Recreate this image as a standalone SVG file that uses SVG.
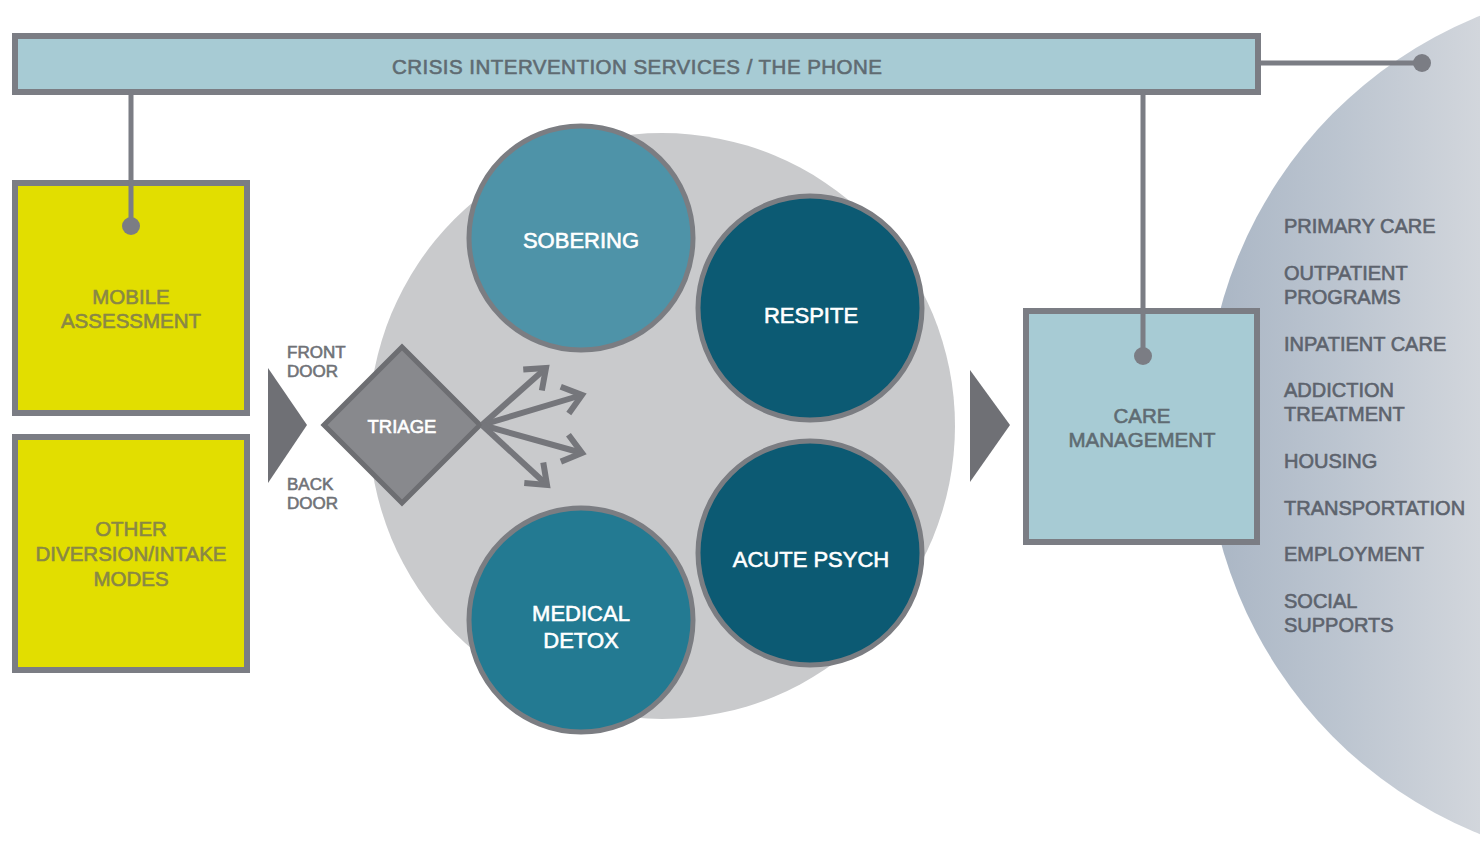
<svg xmlns="http://www.w3.org/2000/svg" width="1480" height="841" viewBox="0 0 1480 841">
<defs>
<linearGradient id="ellG" gradientUnits="userSpaceOnUse" x1="1205" y1="0" x2="1480" y2="0">
<stop offset="0" stop-color="#a9b5c4"/>
<stop offset="0.5" stop-color="#bcc5d0"/>
<stop offset="1" stop-color="#d2d6dc"/>
</linearGradient>
<marker id="chev" markerUnits="userSpaceOnUse" markerWidth="40" markerHeight="40" refX="0" refY="0" viewBox="-30 -20 40 40" orient="auto" overflow="visible">
<path d="M-18,-14 L0,0 L-18,14" fill="none" stroke="#75767b" stroke-width="6" stroke-linecap="butt" stroke-linejoin="miter"/>
</marker>
</defs>
<style>
text{font-family:"Liberation Sans","DejaVu Sans",Arial,sans-serif;text-anchor:middle;dominant-baseline:central;stroke-width:0.6px;paint-order:stroke}
.box{stroke:#7b7d84;stroke-width:6}
.blue{fill:#a7cbd4}
.yel{fill:#e2de00}
.ytx{fill:#898745;stroke:#898745;font-size:20.5px}
.btx{fill:#5f6b72;stroke:#5f6b72;font-size:20.5px}
.ctx{fill:#ffffff;stroke:#ffffff;font-size:22px}
.ring{stroke:#7b7d82;stroke-width:5}
.lst{fill:#5d636d;stroke:#5d636d;font-size:20px;text-anchor:start}
.door{fill:#707277;stroke:#707277;font-size:17px;text-anchor:start}
.con{stroke:#7b7d84;stroke-width:5;fill:none}
.dot{fill:#7b7d84}
.arr{stroke:#75767b;stroke-width:6;fill:none}
.tri{fill:#6f7075}
</style>
<rect width="1480" height="841" fill="#ffffff"/>

<g id="services">
<ellipse cx="1640" cy="425" rx="435" ry="440" fill="url(#ellG)"/>
<text class="lst" x="1284" y="226">PRIMARY CARE</text>
<text class="lst" x="1284" y="273">OUTPATIENT</text>
<text class="lst" x="1284" y="297">PROGRAMS</text>
<text class="lst" x="1284" y="344">INPATIENT CARE</text>
<text class="lst" x="1284" y="390">ADDICTION</text>
<text class="lst" x="1284" y="414">TREATMENT</text>
<text class="lst" x="1284" y="461">HOUSING</text>
<text class="lst" x="1284" y="508">TRANSPORTATION</text>
<text class="lst" x="1284" y="554">EMPLOYMENT</text>
<text class="lst" x="1284" y="601">SOCIAL</text>
<text class="lst" x="1284" y="625">SUPPORTS</text>
</g>

<g id="stabilization-area">
<circle cx="662" cy="426" r="293" fill="#c9cacc"/>
</g>

<g id="crisis-bar">
<rect class="box blue" x="15" y="36" width="1243" height="56"/>
<text class="btx" x="637" y="66" textLength="490" lengthAdjust="spacing">CRISIS INTERVENTION SERVICES / THE PHONE</text>
</g>

<g id="mobile-assessment">
<rect class="box yel" x="15" y="183" width="232" height="230"/>
<text class="ytx" x="131" y="296">MOBILE</text>
<text class="ytx" x="131" y="320">ASSESSMENT</text>
</g>

<g id="other-modes">
<rect class="box yel" x="15" y="437" width="232" height="233"/>
<text class="ytx" x="131" y="528">OTHER</text>
<text class="ytx" x="131" y="553">DIVERSION/INTAKE</text>
<text class="ytx" x="131" y="578">MODES</text>
</g>

<g id="entry-arrow">
<polygon class="tri" points="268,368 307,425 268,483"/>
<text class="door" x="287" y="352">FRONT</text>
<text class="door" x="287" y="371">DOOR</text>
<text class="door" x="287" y="484">BACK</text>
<text class="door" x="287" y="503">DOOR</text>
</g>

<g id="triage">
<polygon points="402,347 480,425 402,503 324,425" fill="#88898d" stroke="#6d6e72" stroke-width="5" stroke-linejoin="miter"/>
<text x="402" y="426" style="fill:#ffffff;stroke:#ffffff;font-size:18.5px">TRIAGE</text>
</g>

<g id="sobering">
<circle class="ring" cx="581" cy="238" r="112" fill="#4e93a8"/>
<text class="ctx" x="581" y="240">SOBERING</text>
</g>

<g id="respite">
<circle class="ring" cx="810" cy="308" r="112" fill="#0c5a73"/>
<text class="ctx" x="811" y="315">RESPITE</text>
</g>

<g id="acute-psych">
<circle class="ring" cx="810" cy="553" r="112" fill="#0c5a73"/>
<text class="ctx" x="811" y="559">ACUTE PSYCH</text>
</g>

<g id="medical-detox">
<circle class="ring" cx="581" cy="620" r="112" fill="#237a92"/>
<text class="ctx" x="581" y="613">MEDICAL</text>
<text class="ctx" x="581" y="640">DETOX</text>
</g>

<g id="exit-arrow">
<polygon class="tri" points="970,370 1010,425 970,482"/>
</g>

<g id="care-management">
<rect class="box blue" x="1026" y="311" width="231" height="231"/>
<text class="btx" x="1142" y="415">CARE</text>
<text class="btx" x="1142" y="439">MANAGEMENT</text>
</g>

<g id="connectors">
<line class="con" x1="131" y1="92" x2="131" y2="226"/>
<circle class="dot" cx="131" cy="226" r="9"/>
<line class="con" x1="1143" y1="92" x2="1143" y2="356"/>
<circle class="dot" cx="1143" cy="356" r="9"/>
<line class="con" x1="1258" y1="63" x2="1422" y2="63"/>
<circle class="dot" cx="1422" cy="63" r="9"/>
<line class="arr" x1="482" y1="425" x2="546" y2="368" marker-end="url(#chev)"/>
<line class="arr" x1="482" y1="425" x2="582" y2="395" marker-end="url(#chev)"/>
<line class="arr" x1="482" y1="425" x2="582" y2="453" marker-end="url(#chev)"/>
<line class="arr" x1="482" y1="425" x2="547" y2="485" marker-end="url(#chev)"/>
</g>
</svg>
